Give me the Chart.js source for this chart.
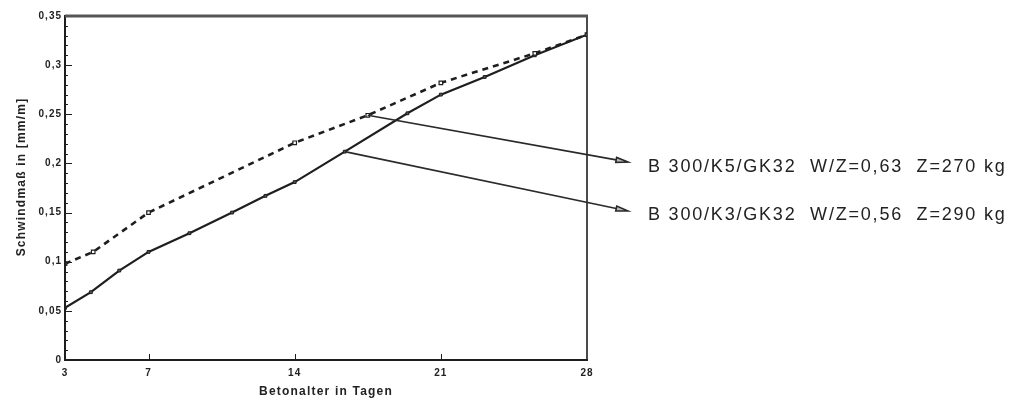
<!DOCTYPE html>
<html>
<head>
<meta charset="utf-8">
<script src="https://cdn.jsdelivr.net/npm/chart.js@4/dist/chart.umd.min.js"></script>
<style>
  html, body { margin: 0; padding: 0; background: #fff; }
  #wrap { width: 1016px; height: 403px; }
</style>
</head>
<body>
<div id="wrap"><canvas id="schwind"></canvas></div>
<script>
// Werte
const tage_k5 = [3, 4.35, 7, 14, 17.5, 21, 25.5, 28]
const schwind_k5 = [0.098, 0.110, 0.150, 0.221, 0.249, 0.282, 0.312, 0.331]
const tage_k3 = [3, 4.24, 5.6, 7, 8.96, 11.0, 12.6, 14, 16.4, 19.4, 21, 23.1, 25.5, 28]
const schwind_k3 = [0.053, 0.069, 0.091, 0.110, 0.129, 0.150, 0.167, 0.181, 0.212, 0.251, 0.270, 0.288, 0.310, 0.331]
const x_ticks = [3, 7, 14, 21, 28]
const y_ticks = [0, 0.05, 0.1, 0.15, 0.2, 0.25, 0.3, 0.35]
const legenden = ['B 300/K5/GK32  W/Z=0,63  Z=270 kg', 'B 300/K3/GK32  W/Z=0,56  Z=290 kg']
const titel_x = 'Betonalter in Tagen'
const titel_y = 'Schwindmaß in [mm/m]'

function punkte(xs, ys){
    return xs.map(function(t, i){ return {x: t, y: ys[i]} })
}

function linie(ctx, x0, y0, x1, y1){
    ctx.beginPath()
    ctx.moveTo(x0, y0)
    ctx.lineTo(x1, y1)
    ctx.stroke()
}

function seta(ctx, x0, y0, x1, y1){
    const ang = Math.atan2(y1 - y0, x1 - x0)
    linie(ctx, x0, y0, x1 - 12 * Math.cos(ang), y1 - 12 * Math.sin(ang))
    ctx.save()
    ctx.translate(x1, y1)
    ctx.rotate(ang)
    ctx.beginPath()
    ctx.moveTo(0, 0)
    ctx.lineTo(-12, -2.5)
    ctx.lineTo(-12, 2.5)
    ctx.closePath()
    ctx.fillStyle = '#bbb'
    ctx.fill()
    ctx.stroke()
    ctx.restore()
}

const rahmen = {
    id: 'rahmen',
    beforeDraw(chart){
        chart.ctx.letterSpacing = '1px'
    },
    afterDraw(chart){
        const ctx = chart.ctx
        const a = chart.chartArea
        const x = chart.scales.x
        const y = chart.scales.y
        ctx.save()
        ctx.strokeStyle = '#1e1e1e'

        // kleine Striche an der y-Achse
        ctx.lineWidth = 1
        for(let i = 1; i < 35; i++){
            const py = Math.round(y.getPixelForValue(i / 100)) + 0.5
            const len = i % 5 == 0 ? 7 : 3
            linie(ctx, a.left, py, a.left + len, py)
        }
        x_ticks.slice(1, -1).forEach(function(t){
            const px = Math.round(x.getPixelForValue(t)) + 0.5
            linie(ctx, px, a.bottom, px, a.bottom - 6)
        })

        // Rahmen
        ctx.lineWidth = 2
        linie(ctx, a.left, a.top - 1, a.left, a.bottom + 1)
        linie(ctx, a.left - 1, a.bottom, a.right + 1, a.bottom)
        ctx.lineWidth = 1.6
        linie(ctx, a.right, a.top, a.right, a.bottom)
        ctx.strokeStyle = '#555'
        ctx.lineWidth = 3
        linie(ctx, a.left, a.top, a.right + 1, a.top)

        // Achsentitel
        ctx.fillStyle = '#222'
        ctx.font = 'bold 12px "Liberation Sans", Arial, sans-serif'
        ctx.letterSpacing = '1.2px'
        ctx.textAlign = 'center'
        ctx.textBaseline = 'middle'
        ctx.fillText(titel_x, (a.left + a.right) / 2, a.bottom + 32)
        ctx.save()
        ctx.translate(22, (a.top + a.bottom) / 2 - 11)
        ctx.rotate(-Math.PI / 2)
        ctx.fillText(titel_y, 0, 0)
        ctx.restore()

        // Pfeile und Beschriftung
        const p_k5 = chart.getDatasetMeta(0).data[4]
        const p_k3 = chart.getDatasetMeta(1).data[8]
        ctx.strokeStyle = '#2a2a2a'
        ctx.lineWidth = 1.6
        seta(ctx, p_k5.x, p_k5.y, a.right + 41, 162)
        seta(ctx, p_k3.x, p_k3.y, a.right + 41, 211)

        ctx.font = '18px "Liberation Sans", Arial, sans-serif'
        ctx.letterSpacing = '1.8px'
        ctx.textAlign = 'left'
        ctx.fillText(legenden[0], a.right + 61, 167)
        ctx.fillText(legenden[1], a.right + 61, 215)
        ctx.restore()
    }
}

const ctx = document.getElementById('schwind').getContext('2d')
const grafico = new Chart(ctx, {
    type: 'line',
    data: {
        datasets: [{
            label: legenden[0],
            data: punkte(tage_k5, schwind_k5),
            borderColor: '#1e1e1e',
            borderWidth: 2.6,
            borderDash: [6, 5],
            pointStyle: 'rect',
            pointRadius: 2.5,
            pointBackgroundColor: '#fff',
            pointBorderColor: '#1e1e1e',
            pointBorderWidth: 1.2,
            tension: 0
        }, {
            label: legenden[1],
            data: punkte(tage_k3, schwind_k3),
            borderColor: '#1e1e1e',
            borderWidth: 2.2,
            pointStyle: 'rect',
            pointRadius: 2,
            pointBackgroundColor: '#555',
            pointBorderColor: '#1e1e1e',
            pointBorderWidth: 1,
            tension: 0
        }]
    },
    options: {
        responsive: true,
        maintainAspectRatio: false,
        animation: false,
        layout: { padding: { left: 0, top: 16, right: 429, bottom: 0 } },
        plugins: { legend: { display: false }, tooltip: { enabled: false } },
        scales: {
            x: {
                type: 'linear',
                min: 3,
                max: 28,
                grid: { display: false, drawTicks: false },
                border: { display: false },
                afterBuildTicks: function(s){ s.ticks = x_ticks.map(function(v){ return {value: v} }) },
                afterFit: function(s){ s.height = 43 },
                ticks: {
                    padding: 7,
                    color: '#222',
                    maxRotation: 0,
                    font: { family: '"Liberation Sans", Arial, sans-serif', size: 10, weight: 'bold' }
                }
            },
            y: {
                min: 0,
                max: 0.35,
                grid: { display: false, drawTicks: false },
                border: { display: false },
                afterBuildTicks: function(s){ s.ticks = y_ticks.map(function(v){ return {value: v} }) },
                afterFit: function(s){ s.width = 65 },
                ticks: {
                    padding: 3,
                    color: '#222',
                    font: { family: '"Liberation Sans", Arial, sans-serif', size: 10, weight: 'bold' },
                    callback: function(v){ return String(+v.toFixed(2)).replace('.', ',') }
                }
            }
        }
    },
    plugins: [rahmen]
})
</script>
</body>
</html>
